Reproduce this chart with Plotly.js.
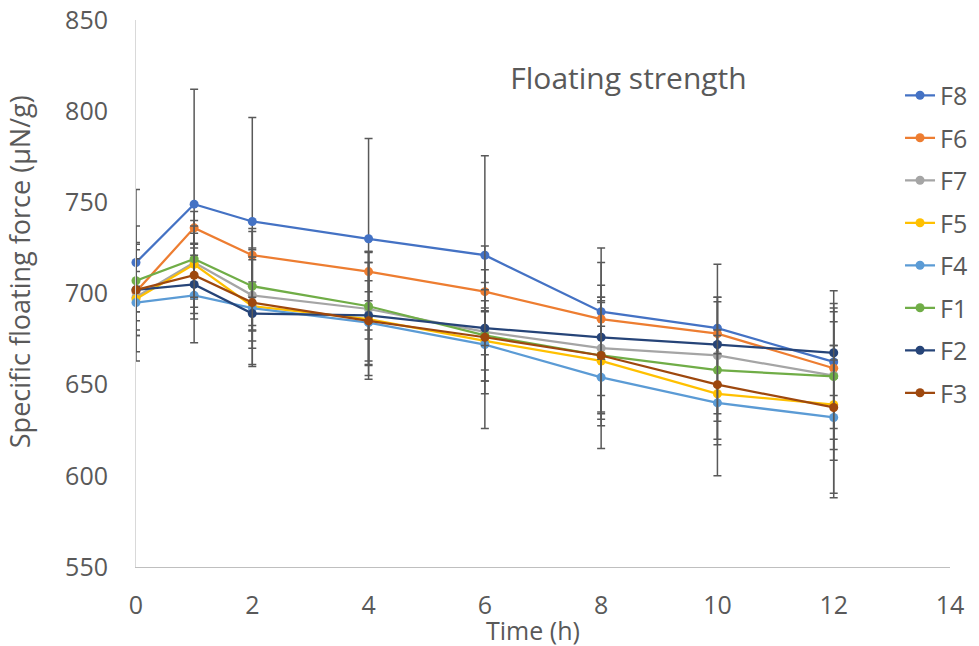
<!DOCTYPE html>
<html>
<head>
<meta charset="utf-8">
<script src="https://cdn.plot.ly/plotly-3.0.1.min.js"></script>
<style>html,body{margin:0;padding:0;background:#fff;}#chart{width:979px;height:646px;}</style>
</head>
<body>
<div id="chart"></div>
<script>
// Time points (h)
const timeH = [0, 1, 2, 4, 6, 8, 10, 12];
// Series names (legend order)
const seriesNames = ["F8", "F6", "F7", "F5", "F4", "F1", "F2", "F3"];
// Specific floating force (µN/g)
const F8 = [717, 749, 739.5, 730, 721, 690, 681, 662.5];
const F6 = [701, 736, 721, 712, 701, 686, 678, 659];
const F7 = [698, 717, 699, 691.5, 679, 670, 666, 655];
const F5 = [697, 716, 693, 686, 674, 663, 645, 639];
const F4 = [695, 699, 692, 684, 672, 654, 640, 632];
const F1 = [707, 719, 704, 693, 677, 666, 658, 654.5];
const F2 = [702, 705, 689, 688, 681, 676, 672, 667.5];
const F3 = [702, 710, 695, 685, 676, 666, 650, 637.5];
// Error (± SD)
const F8err = [40, 63, 57, 55, 54.6, 8, 14.5, 9];
const F6err = [11, 9, 14.7, 11, 5, 10, 20, 33];
const F7err = [30, 20, 19.5, 31, 34, 55, 32, 46.5];
const F5err = [7, 17, 32, 31, 16, 32, 28, 51];
const F4err = [32, 26, 32, 23, 20, 10, 10, 12];
const F1err = [30, 21, 30, 30, 25, 32, 58, 40];
const F2err = [17, 16, 9, 8, 9.5, 41, 5, 4];
const F3err = [22, 17.5, 25, 32, 50, 38.5, 30, 47];
const xTicks = [0, 2, 4, 6, 8, 10, 12, 14];
const yTicks = [550, 600, 650, 700, 750, 800, 850];
const chartTitle = "Floating strength";
const xTitle = "Time (h)";
const yTitle = "Specific floating force (μN/g)";

const values = [F8, F6, F7, F5, F4, F1, F2, F3];
const errors = [F8err, F6err, F7err, F5err, F4err, F1err, F2err, F3err];
const colors = ["#4472C4", "#ED7D31", "#A5A5A5", "#FFC000", "#5B9BD5", "#70AD47", "#264478", "#9E480E"];

const traces = seriesNames.map((name, i) => ({
  type: "scatter",
  mode: "lines+markers",
  name: name,
  legendgroup: name,
  x: timeH,
  y: values[i],
  line: {color: colors[i], width: 2.25},
  marker: {color: colors[i], size: 9},
  cliponaxis: false,
  error_y: {type: "data", array: errors[i], visible: true, color: "#595959", thickness: 1.5, width: 4}
}));

const fontFam = "'Open Sans', sans-serif";
const txtColor = "#595959";
const layout = {
  width: 979, height: 646,
  margin: {l: 136, r: 29, t: 20, b: 79, autoexpand: false},
  paper_bgcolor: "#fff", plot_bgcolor: "#fff",
  font: {family: fontFam, color: txtColor, size: 20},
  showlegend: true,
  title: {text: chartTitle, font: {family: fontFam, size: 30, color: txtColor},
          x: 0.642, xanchor: "center", xref: "container", y: 0.879, yanchor: "middle", yref: "container"},
  xaxis: {
    range: [0, 14], tickvals: xTicks, ticktext: xTicks.map(String),
    showgrid: false, zeroline: false, showline: true, linecolor: "#BFBFBF", linewidth: 1,
    ticks: "", ticklabelstandoff: 16, automargin: false,
    tickfont: {size: 25, color: txtColor}
  },
  yaxis: {
    range: [550, 850], tickvals: yTicks, ticktext: yTicks.map(String),
    showgrid: false, zeroline: false, showline: true, linecolor: "#D9D9D9", linewidth: 1,
    ticks: "", ticklabelstandoff: 22, automargin: false,
    tickfont: {size: 25, color: txtColor}
  },
  annotations: [
    {text: yTitle, textangle: -90, xref: "paper", yref: "paper", x: -0.1437, y: 0.539,
     xanchor: "center", yanchor: "middle", showarrow: false, font: {size: 27, color: txtColor}},
    {text: xTitle, xref: "paper", yref: "paper", x: 0.4877, y: -0.116,
     xanchor: "center", yanchor: "middle", showarrow: false, font: {size: 25, color: txtColor}}
  ],
  legend: {
    x: 0.9386, xanchor: "left", y: 0.904, yanchor: "top",
    bgcolor: "rgba(0,0,0,0)", borderwidth: 0,
    font: {size: 25, color: txtColor},
    traceorder: "grouped", tracegroupgap: 7, itemwidth: 30
  }
};

Plotly.newPlot("chart", traces, layout, {displayModeBar: false, staticPlot: true});
</script>
</body>
</html>
